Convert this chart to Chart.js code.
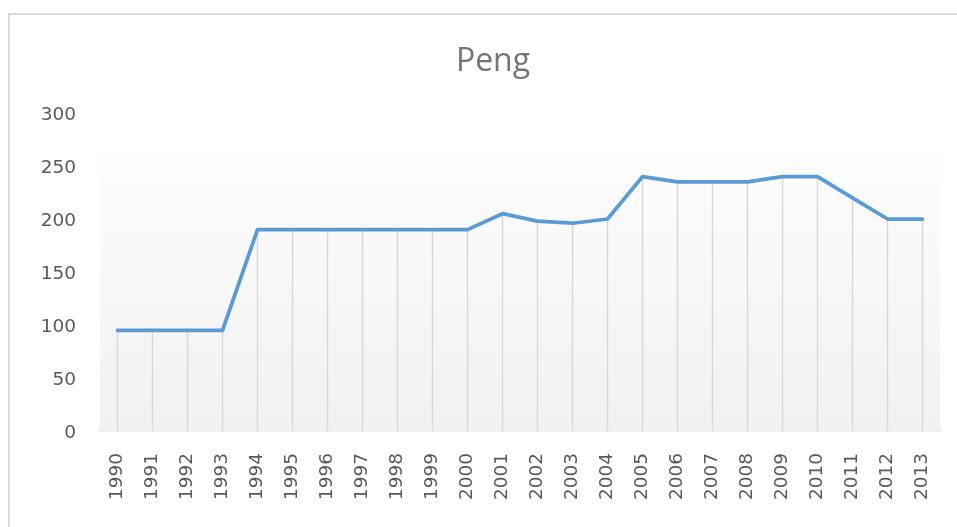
<!DOCTYPE html>
<html>
<head>
<meta charset="utf-8">
<script src="https://cdn.jsdelivr.net/npm/chart.js@4.4.1/dist/chart.umd.min.js"></script>
<style>
  html, body { margin: 0; padding: 0; background: #ffffff; overflow: hidden; }
  #wrap { position: absolute; left: 0; top: 0; width: 957px; height: 527px; }
  #frame { position: absolute; left: 8px; top: 13px; width: 1200px; height: 800px; border: 2px solid #d9d9d9; box-sizing: border-box; }
  canvas { position: absolute; left: 0; top: 0; }
</style>
</head>
<body>
<div id="wrap">
  <div id="frame"></div>
  <canvas id="c" width="957" height="527"></canvas>
</div>
<script>
const chartTitle = "Peng";
const years = ["1990","1991","1992","1993","1994","1995","1996","1997","1998","1999","2000","2001","2002","2003","2004","2005","2006","2007","2008","2009","2010","2011","2012","2013"];
const pengValues = [95, 95, 95, 95, 190, 190, 190, 190, 190, 190, 190, 205, 198, 196, 200, 240, 235, 235, 235, 240, 240, 220, 200, 200];
const yTicks = [0, 50, 100, 150, 200, 250, 300];

const plotBackground = {
  id: 'plotBackground',
  beforeDatasetsDraw(chart) {
    const { ctx, chartArea, scales } = chart;
    const top = scales.y.getPixelForValue(262);
    const bottom = chartArea.bottom;
    const g = ctx.createLinearGradient(0, top, 0, bottom);
    g.addColorStop(0, '#fdfdfd');
    g.addColorStop(1, '#f1f1f1');
    ctx.save();
    ctx.fillStyle = g;
    ctx.fillRect(chartArea.left, top, chartArea.right - chartArea.left, bottom - top);
    const meta = chart.getDatasetMeta(0);
    ctx.strokeStyle = '#d9d9d9';
    ctx.lineWidth = 1.5;
    meta.data.forEach(pt => {
      ctx.beginPath();
      ctx.moveTo(pt.x, pt.y);
      ctx.lineTo(pt.x, bottom);
      ctx.stroke();
    });
    ctx.restore();
  },
  afterDraw(chart) {
    const { ctx } = chart;
    ctx.save();
    ctx.fillStyle = '#757575';
    ctx.font = '32px "Open Sans"';
    ctx.textAlign = 'center';
    ctx.textBaseline = 'alphabetic';
    ctx.fillText(chartTitle, 493, 71);
    ctx.restore();
  }
};

new Chart(document.getElementById('c'), {
  type: 'line',
  data: {
    labels: years,
    datasets: [{
      label: chartTitle,
      data: pengValues,
      borderColor: '#5b9bd5',
      borderWidth: 3.75,
      pointRadius: 0,
      tension: 0,
      fill: false,
      borderCapStyle: 'round',
      borderJoinStyle: 'round'
    }]
  },
  options: {
    responsive: false,
    animation: false,
    layout: { padding: { left: 0, right: 17, top: 113, bottom: 0 } },
    plugins: {
      legend: { display: false },
      tooltip: { enabled: false },
      title: { display: false }
    },
    scales: {
      x: {
        offset: true,
        grid: { display: false, drawTicks: false },
        border: { display: true, color: '#d9d9d9', width: 1.5 },
        ticks: {
          color: '#595959',
          font: { family: 'DejaVu Sans', size: 18.5 },
          minRotation: 90,
          maxRotation: 90,
          autoSkip: false,
          padding: 22
        },
        afterFit(scale) { scale.height = 96; scale.paddingLeft = 0; scale.paddingRight = 0; }
      },
      y: {
        min: 0,
        max: 300,
        afterBuildTicks(scale) { scale.ticks = yTicks.map(v => ({ value: v })); },
        grid: { display: false, drawTicks: false },
        border: { display: false },
        ticks: {
          color: '#595959',
          font: { family: 'DejaVu Sans', size: 18.5 },
          padding: 24,
          labelOffset: 2
        },
        afterFit(scale) { scale.width = 100; scale.paddingTop = 0; scale.paddingBottom = 0; }
      }
    }
  },
  plugins: [plotBackground]
});
</script>
</body>
</html>
